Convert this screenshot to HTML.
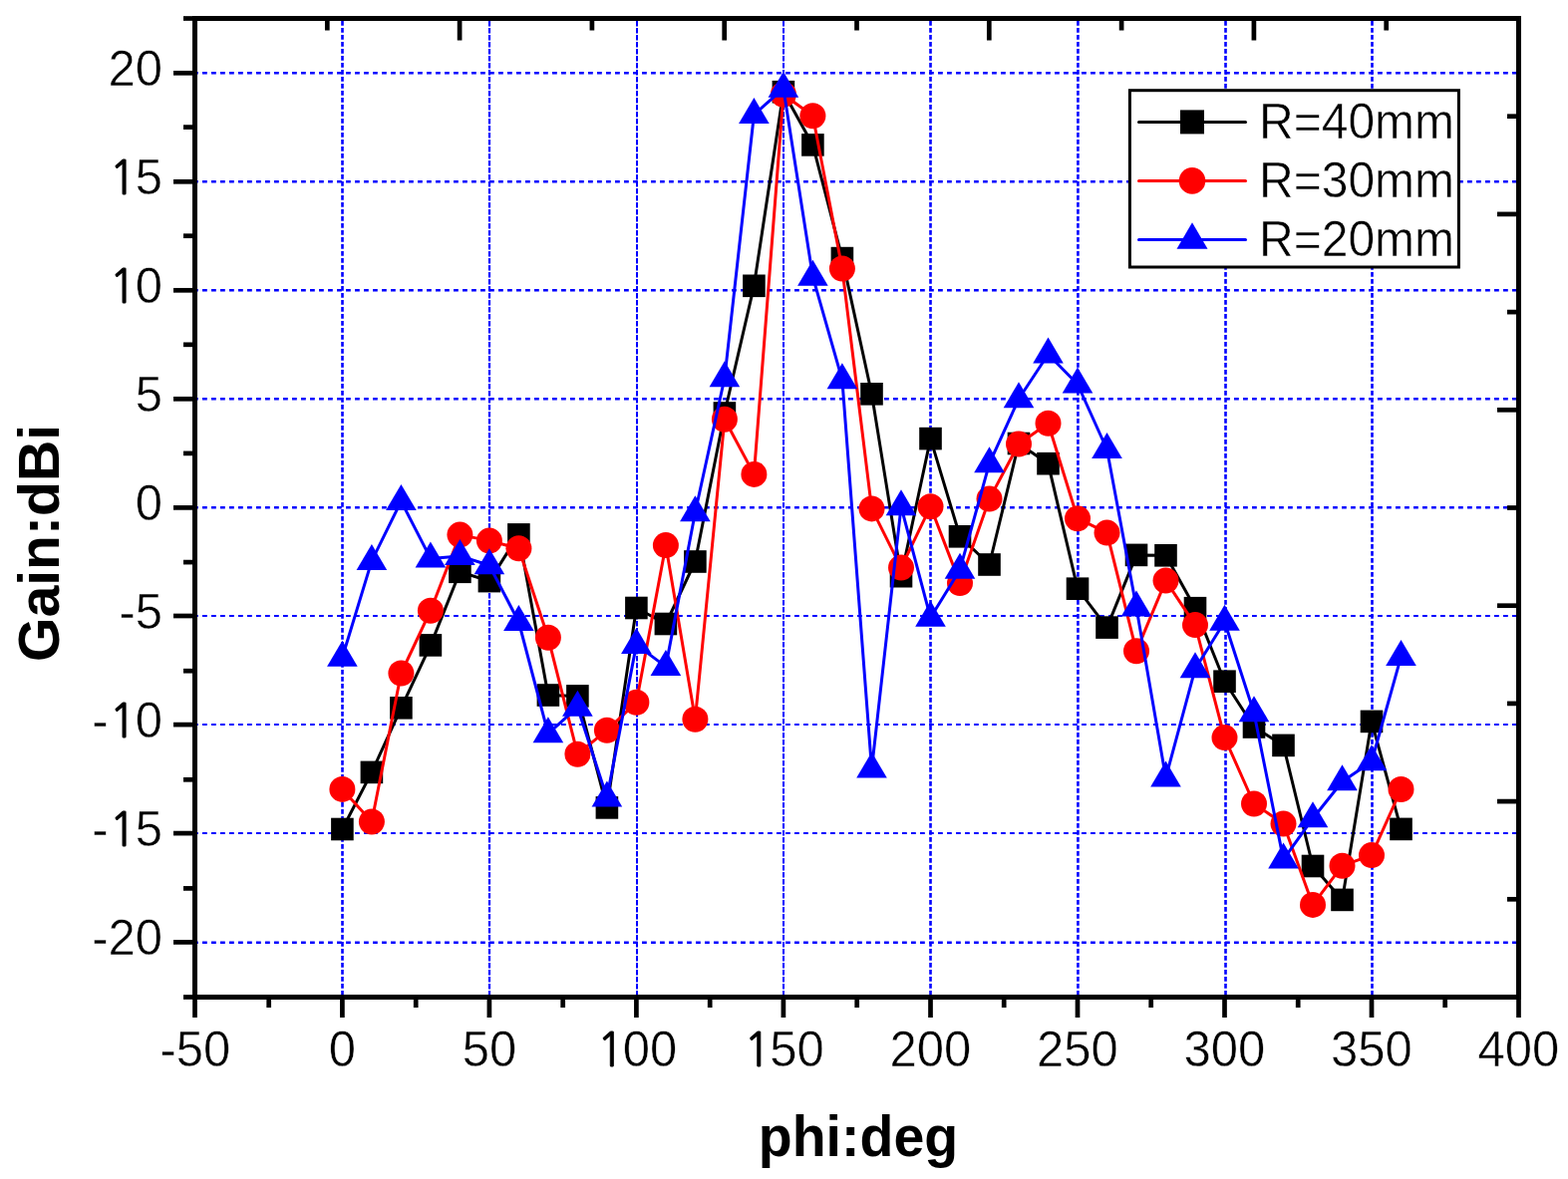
<!DOCTYPE html>
<html><head><meta charset="utf-8"><title>Gain vs phi</title>
<style>html,body{margin:0;padding:0;background:#fff;}body{width:1573px;height:1183px;overflow:hidden;}svg{display:block;}text{font-family:"Liberation Sans",Arial,sans-serif;fill:#000;}</style></head><body>
<svg width="1573" height="1183" viewBox="0 0 1573 1183">
<rect x="0" y="0" width="1573" height="1183" fill="#fff"/>
<g stroke="#0000ff" fill="none"><line x1="343.5" y1="21.0" x2="343.5" y2="998.0" stroke-width="2.6" stroke-dasharray="4.7 2.3"/><line x1="491.0" y1="21.0" x2="491.0" y2="998.0" stroke-width="2.2" stroke-dasharray="5.4 1.6"/><line x1="639.0" y1="21.0" x2="639.0" y2="998.0" stroke-width="2.0" stroke-dasharray="5.4 1.6"/><line x1="786.0" y1="21.0" x2="786.0" y2="998.0" stroke-width="2.0" stroke-dasharray="5.4 1.6"/><line x1="933.5" y1="21.0" x2="933.5" y2="998.0" stroke-width="2.6" stroke-dasharray="4.7 2.3"/><line x1="1081.4" y1="21.0" x2="1081.4" y2="998.0" stroke-width="2.6" stroke-dasharray="4.7 2.3"/><line x1="1229.5" y1="21.0" x2="1229.5" y2="998.0" stroke-width="2.6" stroke-dasharray="4.7 2.3"/><line x1="1376.5" y1="21.0" x2="1376.5" y2="998.0" stroke-width="2.6" stroke-dasharray="4.7 2.3"/></g>
<g stroke="#0000ff" stroke-dasharray="4.8 4.2" stroke-dashoffset="4" fill="none"><line x1="198.0" y1="73.25" x2="1521.0" y2="73.25" stroke-width="2.5"/><line x1="198.0" y1="182.25" x2="1521.0" y2="182.25" stroke-width="2.5"/><line x1="198.0" y1="291.25" x2="1521.0" y2="291.25" stroke-width="2.5"/><line x1="198.0" y1="400.25" x2="1521.0" y2="400.25" stroke-width="2.5"/><line x1="198.0" y1="509.25" x2="1521.0" y2="509.25" stroke-width="2.5"/><line x1="198.0" y1="618.00" x2="1521.0" y2="618.00" stroke-width="2.0"/><line x1="198.0" y1="727.00" x2="1521.0" y2="727.00" stroke-width="2.0"/><line x1="198.0" y1="836.00" x2="1521.0" y2="836.00" stroke-width="2.0"/><line x1="198.0" y1="945.75" x2="1521.0" y2="945.75" stroke-width="2.5"/></g>
<rect x="195.5" y="18.5" width="1328.0" height="982.0" fill="none" stroke="#000" stroke-width="5"/>
<g stroke="#000" stroke-width="4.7" fill="none"><line x1="184.0" y1="18.5" x2="195.5" y2="18.5"/><line x1="174.0" y1="73.3" x2="195.5" y2="73.3"/><line x1="184.0" y1="127.6" x2="195.5" y2="127.6"/><line x1="174.0" y1="182.3" x2="195.5" y2="182.3"/><line x1="184.0" y1="236.7" x2="195.5" y2="236.7"/><line x1="174.0" y1="291.3" x2="195.5" y2="291.3"/><line x1="184.0" y1="345.8" x2="195.5" y2="345.8"/><line x1="174.0" y1="400.3" x2="195.5" y2="400.3"/><line x1="184.0" y1="454.9" x2="195.5" y2="454.9"/><line x1="174.0" y1="509.4" x2="195.5" y2="509.4"/><line x1="184.0" y1="564.1" x2="195.5" y2="564.1"/><line x1="174.0" y1="618.0" x2="195.5" y2="618.0"/><line x1="184.0" y1="673.2" x2="195.5" y2="673.2"/><line x1="174.0" y1="727.1" x2="195.5" y2="727.1"/><line x1="184.0" y1="782.3" x2="195.5" y2="782.3"/><line x1="174.0" y1="836.1" x2="195.5" y2="836.1"/><line x1="184.0" y1="891.4" x2="195.5" y2="891.4"/><line x1="174.0" y1="945.4" x2="195.5" y2="945.4"/><line x1="184.0" y1="1000.5" x2="195.5" y2="1000.5"/><line x1="195.5" y1="1000.5" x2="195.5" y2="1021.0"/><line x1="269.7" y1="1000.5" x2="269.7" y2="1011.0"/><line x1="343.4" y1="1000.5" x2="343.4" y2="1021.0"/><line x1="417.2" y1="1000.5" x2="417.2" y2="1011.0"/><line x1="490.9" y1="1000.5" x2="490.9" y2="1021.0"/><line x1="564.7" y1="1000.5" x2="564.7" y2="1011.0"/><line x1="638.4" y1="1000.5" x2="638.4" y2="1021.0"/><line x1="712.2" y1="1000.5" x2="712.2" y2="1011.0"/><line x1="785.9" y1="1000.5" x2="785.9" y2="1021.0"/><line x1="859.7" y1="1000.5" x2="859.7" y2="1011.0"/><line x1="933.5" y1="1000.5" x2="933.5" y2="1021.0"/><line x1="1007.2" y1="1000.5" x2="1007.2" y2="1011.0"/><line x1="1081.0" y1="1000.5" x2="1081.0" y2="1021.0"/><line x1="1154.7" y1="1000.5" x2="1154.7" y2="1011.0"/><line x1="1228.5" y1="1000.5" x2="1228.5" y2="1021.0"/><line x1="1302.2" y1="1000.5" x2="1302.2" y2="1011.0"/><line x1="1376.0" y1="1000.5" x2="1376.0" y2="1021.0"/><line x1="1449.7" y1="1000.5" x2="1449.7" y2="1011.0"/><line x1="1523.5" y1="1000.5" x2="1523.5" y2="1021.0"/><line x1="328.3" y1="18.5" x2="328.3" y2="30.5"/><line x1="461.1" y1="18.5" x2="461.1" y2="40.5"/><line x1="593.9" y1="18.5" x2="593.9" y2="30.5"/><line x1="726.7" y1="18.5" x2="726.7" y2="40.5"/><line x1="859.5" y1="18.5" x2="859.5" y2="30.5"/><line x1="992.3" y1="18.5" x2="992.3" y2="40.5"/><line x1="1125.1" y1="18.5" x2="1125.1" y2="30.5"/><line x1="1257.9" y1="18.5" x2="1257.9" y2="40.5"/><line x1="1390.7" y1="18.5" x2="1390.7" y2="30.5"/><line x1="1512.0" y1="116.7" x2="1523.5" y2="116.7"/><line x1="1502.0" y1="214.9" x2="1523.5" y2="214.9"/><line x1="1512.0" y1="313.1" x2="1523.5" y2="313.1"/><line x1="1502.0" y1="411.3" x2="1523.5" y2="411.3"/><line x1="1512.0" y1="509.5" x2="1523.5" y2="509.5"/><line x1="1502.0" y1="607.7" x2="1523.5" y2="607.7"/><line x1="1512.0" y1="705.9" x2="1523.5" y2="705.9"/><line x1="1502.0" y1="804.1" x2="1523.5" y2="804.1"/><line x1="1512.0" y1="902.3" x2="1523.5" y2="902.3"/></g>
<g font-size="49" stroke="#fff" stroke-width="0.5"><text transform="translate(108.50,85.9) scale(1,1.035)">20</text><text transform="translate(108.50,194.9) scale(1,1.035)"><tspan font-family="NanumGothic, Liberation Sans, sans-serif" font-size="45.0" dx="1.10" letter-spacing="-1.12" stroke="#000" stroke-width="0.9">1</tspan>5</text><text transform="translate(108.50,303.9) scale(1,1.035)"><tspan font-family="NanumGothic, Liberation Sans, sans-serif" font-size="45.0" dx="1.10" letter-spacing="-1.12" stroke="#000" stroke-width="0.9">1</tspan>0</text><text transform="translate(135.75,412.9) scale(1,1.035)">5</text><text transform="translate(135.75,522.0) scale(1,1.035)">0</text><text transform="translate(119.43,630.6) scale(1,1.035)">-5</text><text transform="translate(92.18,739.7) scale(1,1.035)">-<tspan font-family="NanumGothic, Liberation Sans, sans-serif" font-size="45.0" dx="1.10" letter-spacing="-1.12" stroke="#000" stroke-width="0.9">1</tspan>0</text><text transform="translate(92.18,848.7) scale(1,1.035)">-<tspan font-family="NanumGothic, Liberation Sans, sans-serif" font-size="45.0" dx="1.10" letter-spacing="-1.12" stroke="#000" stroke-width="0.9">1</tspan>5</text><text transform="translate(92.18,958.0) scale(1,1.035)">-20</text><text transform="translate(160.49,1070.4) scale(1,1.035)">-50</text><text transform="translate(329.79,1070.4) scale(1,1.035)">0</text><text transform="translate(463.67,1070.4) scale(1,1.035)">50</text><text transform="translate(597.56,1070.4) scale(1,1.035)"><tspan font-family="NanumGothic, Liberation Sans, sans-serif" font-size="45.0" dx="1.10" letter-spacing="-1.12" stroke="#000" stroke-width="0.9">1</tspan>00</text><text transform="translate(745.07,1070.4) scale(1,1.035)"><tspan font-family="NanumGothic, Liberation Sans, sans-serif" font-size="45.0" dx="1.10" letter-spacing="-1.12" stroke="#000" stroke-width="0.9">1</tspan>50</text><text transform="translate(892.58,1070.4) scale(1,1.035)">200</text><text transform="translate(1040.09,1070.4) scale(1,1.035)">250</text><text transform="translate(1187.60,1070.4) scale(1,1.035)">300</text><text transform="translate(1335.11,1070.4) scale(1,1.035)">350</text><text transform="translate(1482.62,1070.4) scale(1,1.035)">400</text></g>
<text transform="translate(861,1160) scale(0.965,1)" text-anchor="middle" font-size="57.5" font-weight="bold">phi:deg</text>
<text transform="translate(58.9,545) rotate(-90) scale(0.994,1)" x="0" y="0" text-anchor="middle" font-size="57.5" font-weight="bold">Gain:dBi</text>
<polyline points="343.4,832.0 372.9,774.9 402.4,710.3 431.9,647.4 461.4,573.8 490.9,583.1 520.4,536.4 549.9,697.5 579.4,698.4 608.9,810.4 638.4,610.0 667.9,626.0 697.4,563.5 726.9,414.5 756.4,286.8 785.9,92.2 815.4,145.4 844.9,259.1 874.5,395.3 904.0,578.2 933.5,440.1 963.0,538.3 992.5,566.5 1022.0,445.0 1051.5,465.2 1081.0,590.7 1110.5,629.6 1140.0,556.9 1169.5,557.3 1199.0,610.2 1228.5,683.7 1258.0,729.5 1287.5,747.9 1317.0,869.0 1346.5,902.9 1376.0,723.9 1405.5,831.9" fill="none" stroke="#000" stroke-width="3.0" stroke-linejoin="round"/>
<g fill="#000"><rect x="332.1" y="820.7" width="22.6" height="22.6"/><rect x="361.6" y="763.6" width="22.6" height="22.6"/><rect x="391.1" y="699.0" width="22.6" height="22.6"/><rect x="420.6" y="636.1" width="22.6" height="22.6"/><rect x="450.1" y="562.5" width="22.6" height="22.6"/><rect x="479.6" y="571.8" width="22.6" height="22.6"/><rect x="509.1" y="525.1" width="22.6" height="22.6"/><rect x="538.6" y="686.2" width="22.6" height="22.6"/><rect x="568.1" y="687.1" width="22.6" height="22.6"/><rect x="597.6" y="799.1" width="22.6" height="22.6"/><rect x="627.1" y="598.7" width="22.6" height="22.6"/><rect x="656.6" y="614.7" width="22.6" height="22.6"/><rect x="686.1" y="552.2" width="22.6" height="22.6"/><rect x="715.6" y="403.2" width="22.6" height="22.6"/><rect x="745.1" y="275.5" width="22.6" height="22.6"/><rect x="774.6" y="80.9" width="22.6" height="22.6"/><rect x="804.1" y="134.1" width="22.6" height="22.6"/><rect x="833.6" y="247.8" width="22.6" height="22.6"/><rect x="863.2" y="384.0" width="22.6" height="22.6"/><rect x="892.7" y="566.9" width="22.6" height="22.6"/><rect x="922.2" y="428.8" width="22.6" height="22.6"/><rect x="951.7" y="527.0" width="22.6" height="22.6"/><rect x="981.2" y="555.2" width="22.6" height="22.6"/><rect x="1010.7" y="433.7" width="22.6" height="22.6"/><rect x="1040.2" y="453.9" width="22.6" height="22.6"/><rect x="1069.7" y="579.4" width="22.6" height="22.6"/><rect x="1099.2" y="618.3" width="22.6" height="22.6"/><rect x="1128.7" y="545.6" width="22.6" height="22.6"/><rect x="1158.2" y="546.0" width="22.6" height="22.6"/><rect x="1187.7" y="598.9" width="22.6" height="22.6"/><rect x="1217.2" y="672.4" width="22.6" height="22.6"/><rect x="1246.7" y="718.2" width="22.6" height="22.6"/><rect x="1276.2" y="736.6" width="22.6" height="22.6"/><rect x="1305.7" y="857.7" width="22.6" height="22.6"/><rect x="1335.2" y="891.6" width="22.6" height="22.6"/><rect x="1364.7" y="712.6" width="22.6" height="22.6"/><rect x="1394.2" y="820.6" width="22.6" height="22.6"/></g>
<polyline points="343.4,791.9 372.9,824.5 402.4,675.5 431.9,612.7 461.4,536.6 490.9,542.6 520.4,550.3 549.9,639.7 579.4,756.7 608.9,732.7 638.4,704.8 667.9,547.1 697.4,721.7 726.9,420.8 756.4,475.9 785.9,94.8 815.4,116.3 844.9,269.5 874.5,510.4 904.0,569.6 933.5,508.2 963.0,585.1 992.5,500.6 1022.0,445.5 1051.5,424.7 1081.0,520.2 1110.5,534.6 1140.0,653.3 1169.5,582.6 1199.0,627.1 1228.5,740.1 1258.0,806.5 1287.5,826.6 1317.0,907.9 1346.5,868.7 1376.0,858.1 1405.5,792.0" fill="none" stroke="#ff0000" stroke-width="3.0" stroke-linejoin="round"/>
<g fill="#ff0000"><circle cx="343.4" cy="791.9" r="13.0"/><circle cx="372.9" cy="824.5" r="13.0"/><circle cx="402.4" cy="675.5" r="13.0"/><circle cx="431.9" cy="612.7" r="13.0"/><circle cx="461.4" cy="536.6" r="13.0"/><circle cx="490.9" cy="542.6" r="13.0"/><circle cx="520.4" cy="550.3" r="13.0"/><circle cx="549.9" cy="639.7" r="13.0"/><circle cx="579.4" cy="756.7" r="13.0"/><circle cx="608.9" cy="732.7" r="13.0"/><circle cx="638.4" cy="704.8" r="13.0"/><circle cx="667.9" cy="547.1" r="13.0"/><circle cx="697.4" cy="721.7" r="13.0"/><circle cx="726.9" cy="420.8" r="13.0"/><circle cx="756.4" cy="475.9" r="13.0"/><circle cx="785.9" cy="94.8" r="13.0"/><circle cx="815.4" cy="116.3" r="13.0"/><circle cx="844.9" cy="269.5" r="13.0"/><circle cx="874.5" cy="510.4" r="13.0"/><circle cx="904.0" cy="569.6" r="13.0"/><circle cx="933.5" cy="508.2" r="13.0"/><circle cx="963.0" cy="585.1" r="13.0"/><circle cx="992.5" cy="500.6" r="13.0"/><circle cx="1022.0" cy="445.5" r="13.0"/><circle cx="1051.5" cy="424.7" r="13.0"/><circle cx="1081.0" cy="520.2" r="13.0"/><circle cx="1110.5" cy="534.6" r="13.0"/><circle cx="1140.0" cy="653.3" r="13.0"/><circle cx="1169.5" cy="582.6" r="13.0"/><circle cx="1199.0" cy="627.1" r="13.0"/><circle cx="1228.5" cy="740.1" r="13.0"/><circle cx="1258.0" cy="806.5" r="13.0"/><circle cx="1287.5" cy="826.6" r="13.0"/><circle cx="1317.0" cy="907.9" r="13.0"/><circle cx="1346.5" cy="868.7" r="13.0"/><circle cx="1376.0" cy="858.1" r="13.0"/><circle cx="1405.5" cy="792.0" r="13.0"/></g>
<polyline points="343.4,659.7 372.9,562.9 402.4,502.9 431.9,560.4 461.4,557.9 490.9,567.2 520.4,624.0 549.9,736.2 579.4,709.7 608.9,800.4 638.4,646.9 667.9,668.9 697.4,514.2 726.9,379.3 756.4,115.0 785.9,88.8 815.4,277.7 844.9,381.2 874.5,771.6 904.0,508.3 933.5,619.8 963.0,571.7 992.5,465.2 1022.0,400.3 1051.5,355.5 1081.0,385.5 1110.5,451.0 1140.0,609.4 1169.5,780.4 1199.0,671.2 1228.5,623.8 1258.0,715.3 1287.5,862.4 1317.0,821.2 1346.5,784.3 1376.0,764.2 1405.5,658.9" fill="none" stroke="#0000ff" stroke-width="3.0" stroke-linejoin="round"/>
<g fill="#0000ff"><polygon points="343.4,642.7 328.1,668.7 358.7,668.7"/><polygon points="372.9,545.9 357.6,571.9 388.2,571.9"/><polygon points="402.4,485.9 387.1,511.9 417.7,511.9"/><polygon points="431.9,543.4 416.6,569.4 447.2,569.4"/><polygon points="461.4,540.9 446.1,566.9 476.7,566.9"/><polygon points="490.9,550.2 475.6,576.2 506.2,576.2"/><polygon points="520.4,607.0 505.1,633.0 535.7,633.0"/><polygon points="549.9,719.2 534.6,745.2 565.2,745.2"/><polygon points="579.4,692.7 564.1,718.7 594.7,718.7"/><polygon points="608.9,783.4 593.6,809.4 624.2,809.4"/><polygon points="638.4,629.9 623.1,655.9 653.7,655.9"/><polygon points="667.9,651.9 652.6,677.9 683.2,677.9"/><polygon points="697.4,497.2 682.1,523.2 712.7,523.2"/><polygon points="726.9,362.3 711.6,388.3 742.2,388.3"/><polygon points="756.4,98.0 741.1,124.0 771.7,124.0"/><polygon points="785.9,71.8 770.6,97.8 801.2,97.8"/><polygon points="815.4,260.7 800.1,286.7 830.7,286.7"/><polygon points="844.9,364.2 829.6,390.2 860.2,390.2"/><polygon points="874.5,754.6 859.2,780.6 889.8,780.6"/><polygon points="904.0,491.3 888.7,517.3 919.3,517.3"/><polygon points="933.5,602.8 918.2,628.8 948.8,628.8"/><polygon points="963.0,554.7 947.7,580.7 978.3,580.7"/><polygon points="992.5,448.2 977.2,474.2 1007.8,474.2"/><polygon points="1022.0,383.3 1006.7,409.3 1037.3,409.3"/><polygon points="1051.5,338.5 1036.2,364.5 1066.8,364.5"/><polygon points="1081.0,368.5 1065.7,394.5 1096.3,394.5"/><polygon points="1110.5,434.0 1095.2,460.0 1125.8,460.0"/><polygon points="1140.0,592.4 1124.7,618.4 1155.3,618.4"/><polygon points="1169.5,763.4 1154.2,789.4 1184.8,789.4"/><polygon points="1199.0,654.2 1183.7,680.2 1214.3,680.2"/><polygon points="1228.5,606.8 1213.2,632.8 1243.8,632.8"/><polygon points="1258.0,698.3 1242.7,724.3 1273.3,724.3"/><polygon points="1287.5,845.4 1272.2,871.4 1302.8,871.4"/><polygon points="1317.0,804.2 1301.7,830.2 1332.3,830.2"/><polygon points="1346.5,767.3 1331.2,793.3 1361.8,793.3"/><polygon points="1376.0,747.2 1360.7,773.2 1391.3,773.2"/><polygon points="1405.5,641.9 1390.2,667.9 1420.8,667.9"/></g>
<rect x="1133.4" y="90.7" width="330.0" height="177.3" fill="#fff" stroke="#000" stroke-width="3"/>
<line x1="1142.5" y1="122.4" x2="1249.5" y2="122.4" stroke="#000" stroke-width="3" stroke-linecap="round"/>
<rect x="1184.0" y="110.4" width="24" height="24" fill="#000"/>
<text transform="translate(1263,138.7) scale(1,1.06)" font-size="48" stroke="#fff" stroke-width="0.5">R=40mm</text>
<line x1="1142.5" y1="181.4" x2="1249.5" y2="181.4" stroke="#ff0000" stroke-width="3" stroke-linecap="round"/>
<circle cx="1196.0" cy="181.4" r="13.3" fill="#ff0000"/>
<text transform="translate(1263,197.7) scale(1,1.06)" font-size="48" stroke="#fff" stroke-width="0.5">R=30mm</text>
<line x1="1142.5" y1="240.5" x2="1249.5" y2="240.5" stroke="#0000ff" stroke-width="3" stroke-linecap="round"/>
<polygon points="1196.0,223.2 1180.5,249.8 1211.5,249.8" fill="#0000ff"/>
<text transform="translate(1263,256.8) scale(1,1.06)" font-size="48" stroke="#fff" stroke-width="0.5">R=20mm</text>
</svg></body></html>
